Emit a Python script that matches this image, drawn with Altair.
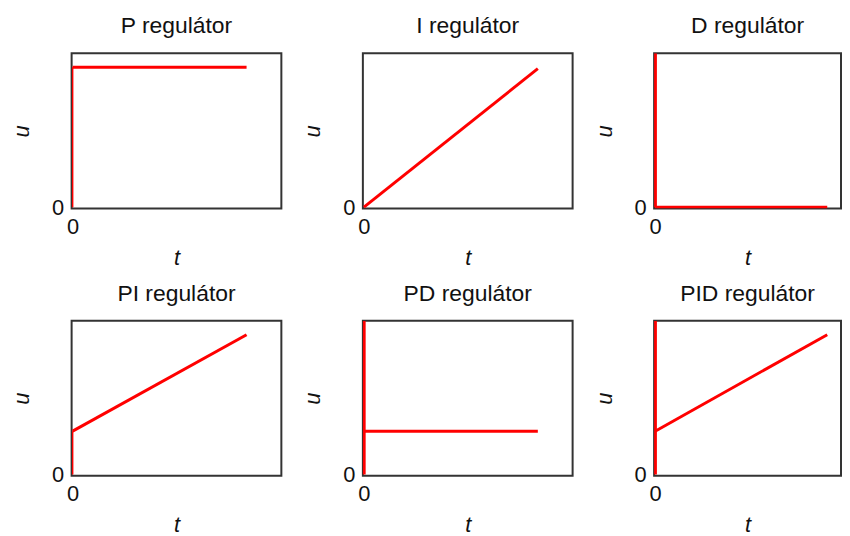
import altair as alt
import pandas as pd

titles = ["P regulátor", "I regulátor", "D regulátor",
          "PI regulátor", "PD regulátor", "PID regulátor"]

# segments per panel: (t values, u values, line weight)
p_step_t, p_step_u = [0, 0], [0, 1.0]
p_line_t, p_line_u = [0, 1], [1.0, 1.0]
i_line_t, i_line_u = [0, 1], [0, 0.99]
d_imp_t, d_imp_u = [0, 0], [0, 1.1]
d_line_t, d_line_u = [0, 1], [0, 0]
pi_step_t, pi_step_u = [0, 0], [0, 0.31]
pi_line_t, pi_line_u = [0, 1], [0.31, 1.0]
pd_imp_t, pd_imp_u = [0, 0], [0, 1.1]
pd_line_t, pd_line_u = [0, 1], [0.31, 0.31]
pid_imp_t, pid_imp_u = [0, 0], [0, 1.1]
pid_line_t, pid_line_u = [0, 1], [0.31, 1.0]

segments = {
    "P regulátor": [(p_step_t, p_step_u, 1.5), (p_line_t, p_line_u, 3)],
    "I regulátor": [(i_line_t, i_line_u, 3)],
    "D regulátor": [(d_imp_t, d_imp_u, 3.5), (d_line_t, d_line_u, 3)],
    "PI regulátor": [(pi_step_t, pi_step_u, 1.5), (pi_line_t, pi_line_u, 3)],
    "PD regulátor": [(pd_imp_t, pd_imp_u, 3.5), (pd_line_t, pd_line_u, 3)],
    "PID regulátor": [(pid_imp_t, pid_imp_u, 3.5), (pid_line_t, pid_line_u, 3)],
}

rows = []
for name, segs in segments.items():
    for k, (ts, us, w) in enumerate(segs):
        for j, (t, u) in enumerate(zip(ts, us)):
            rows.append({"panel": name, "seg": k, "w": w, "t": t, "u": u, "o": j})
df = pd.DataFrame(rows)

FONT = "Liberation Sans"
FS = 22
H = 156

def panel(name, w, xmax):
    return (
        alt.Chart(df)
        .transform_filter(alt.datum.panel == name)
        .mark_line(color="#ff0000", clip=True, strokeCap="butt")
        .encode(
            x=alt.X("t:Q", scale=alt.Scale(domain=[-0.006, xmax], nice=False, zero=False),
                    axis=alt.Axis(values=[0], title="t", titleFontStyle="italic",
                                  titleFontWeight="normal", ticks=False, domain=False,
                                  grid=False, labelFontSize=FS, titleFontSize=FS,
                                  labelFont=FONT, titleFont=FONT, labelPadding=8,
                                  titlePadding=10, labelColor="#111", titleColor="#111")),
            y=alt.Y("u:Q", scale=alt.Scale(domain=[-0.009, 1.1], nice=False, zero=False),
                    axis=alt.Axis(values=[0], title="u", titleFontStyle="italic",
                                  titleFontWeight="normal", ticks=False, domain=False,
                                  grid=False, labelFontSize=FS, titleFontSize=FS,
                                  labelFont=FONT, titleFont=FONT, labelPadding=8,
                                  titlePadding=18, labelColor="#111", titleColor="#111")),
            detail="seg:N",
            order="o:Q",
            strokeWidth=alt.StrokeWidth("w:Q", scale=None),
        )
        .properties(width=w, height=H,
                    title=alt.TitleParams(name, fontSize=23, fontWeight="normal",
                                          font=FONT, color="#111", offset=15))
    )

widths = [211, 211, 188, 211, 211, 188]
xmaxes = [1.2, 1.2, 1.08, 1.2, 1.2, 1.08]

chart = (
    alt.concat(*[panel(n, w, m) for n, w, m in zip(titles, widths, xmaxes)],
               columns=3, align="each",
               spacing=alt.RowColnumber(row=13, column=18))
    .properties(padding={"left": 1, "top": 5, "right": 0, "bottom": 0},
                background="white")
    .configure_view(stroke="#333", strokeWidth=2)
)

chart.save("out.html", embed_options={"renderer": "svg", "actions": False})
